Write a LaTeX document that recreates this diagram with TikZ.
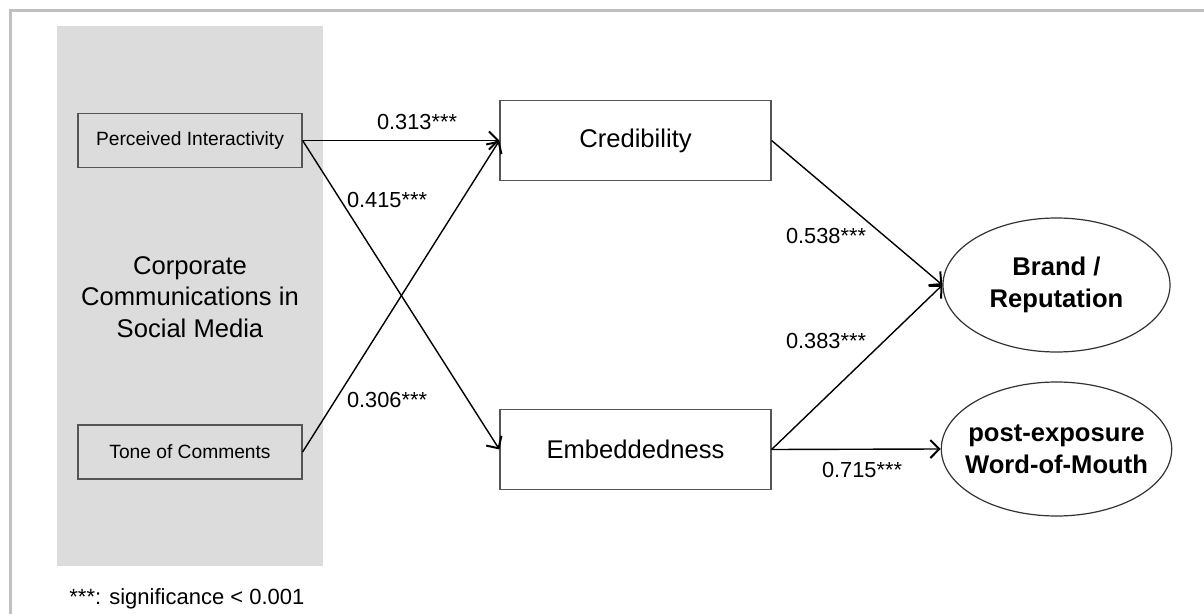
\documentclass[tikz,border=0pt]{standalone}
\usepackage{fontspec}
\setmainfont{Liberation Sans}
\usetikzlibrary{shapes.geometric,arrows.meta}
\definecolor{panelgray}{HTML}{DCDCDC}
\definecolor{framegray}{HTML}{C0C0C0}
\definecolor{boxline}{HTML}{555555}
\tikzset{
  smallbox/.style={draw=boxline,line width=0.6pt,minimum width=112pt,minimum height=27pt,inner sep=0pt,font=\fontsize{9.6}{11.5}\selectfont},
  bigbox/.style={draw=boxline,line width=0.6pt,minimum width=135.5pt,minimum height=40pt,inner sep=0pt,font=\fontsize{12.8}{15.4}\selectfont},
  outcome/.style={ellipse,draw=black!80,line width=0.6pt,minimum width=113.5pt,minimum height=67pt,inner xsep=-5pt,inner ysep=0pt,align=center,font=\fontsize{12.8}{16}\selectfont\bfseries},
  coef/.style={font=\fontsize{10.9}{13}\selectfont,inner sep=0pt},
  link/.style={line width=0.7pt,-{Straight Barb[length=4.5pt,width=9pt,line width=1pt]}}
}
\begin{document}
\begin{tikzpicture}[x=0.5pt,y=-0.5pt]
\useasboundingbox (0,0) rectangle (1204,614);
% frame and grey panel
\draw[framegray,line width=1.5pt] (10.5,614) -- (10.5,10.5) -- (1204,10.5);
\fill[panelgray] (57,26) rectangle (323,566);
\node[align=center,font=\fontsize{12.8}{15.7}\selectfont] (panel) at (190,297) {Corporate\\Communications in\\Social Media};
% nodes
\node[smallbox] (inter) at (190,140.5) {Perceived Interactivity};
\node[smallbox] (tone) at (190,452) {Tone of Comments};
\node[bigbox] (cred) at (635.5,140.5) {Credibility};
\node[bigbox] (embed) at (635.5,449.5) {Embeddedness};
\node[outcome] (brand) at (1056.5,285) {Brand /\\Reputation};
\node[outcome] (wom) at (1056.5,449) {post-exposure\\Word-of-Mouth};
% paths
\draw[link] (inter.east) -- (cred.west);
\draw[link] (inter.east) -- (embed.west);
\draw[link] (tone.east) -- (cred.west);
\draw[link] (cred.east) -- (brand.west);
\draw[link] (embed.east) -- (brand.west);
\draw[link] (embed.east) -- (wom.west);
% coefficients
\node[coef] (c1) at (417,122) {0.313***};
\node[coef] (c2) at (387,200) {0.415***};
\node[coef] (c3) at (387,400) {0.306***};
\node[coef] (c4) at (826,236) {0.538***};
\node[coef] (c5) at (826,341) {0.383***};
\node[coef] (c6) at (862,470) {0.715***};
\node[coef,font=\fontsize{11}{13}\selectfont,anchor=base west] (note) at (69,604) {***: significance < 0.001};
\end{tikzpicture}
\end{document}
